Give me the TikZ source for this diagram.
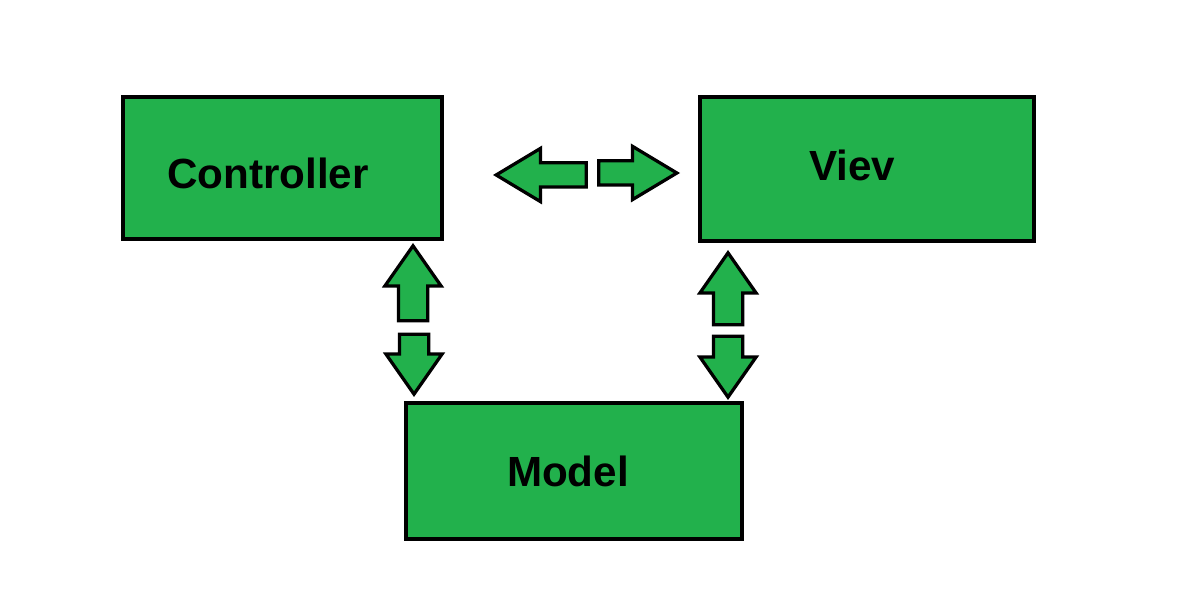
\documentclass[tikz,border=0pt]{standalone}
\usepackage{fontspec}
\setmainfont{Liberation Sans}
\usetikzlibrary{shapes.arrows,positioning}
\definecolor{paintgreen}{RGB}{34,177,76}

\tikzset{
  box/.style={draw,line width=0.08cm,fill=paintgreen,inner sep=0pt},
  tag/.style={font=\fontsize{24}{28}\selectfont\bfseries},
  harrow/.style={draw,line width=0.065cm,fill=paintgreen,single arrow,inner xsep=0pt,inner ysep=0.21cm,
    single arrow head extend=0.29cm,single arrow tip angle=62,anchor=tip},
  varrow/.style={draw,line width=0.065cm,fill=paintgreen,single arrow,inner xsep=0pt,inner ysep=0.26cm,
    single arrow head extend=0.27cm,single arrow tip angle=70,anchor=tip}
}

\begin{document}
\begin{tikzpicture}
  \useasboundingbox (0,0) rectangle (24,11.78);
  \fill[white] (0,0) rectangle (24,11.78);

  \node[box,minimum width=6.38cm,minimum height=2.84cm,
    label={[tag,xshift=-0.29cm,yshift=-0.1cm]center:Controller}] (ctrl) at (5.65,8.42) {};
  \node[box,minimum width=6.68cm,minimum height=2.88cm,
    label={[tag,xshift=-0.3cm,yshift=0.08cm]center:Viev}] (view) at (17.34,8.40) {};
  \node[box,minimum width=6.72cm,minimum height=2.72cm,
    label={[tag,xshift=-0.12cm]center:Model}] (model) at (11.48,2.36) {};

  % controller <-> view
  \node[harrow,minimum height=1.80cm,rotate=180] (cv1) at (9.86,8.28) {};
  \node[harrow,minimum height=1.56cm] (cv2) at (13.60,8.32) {};

  % controller <-> model
  \node[varrow,minimum height=1.50cm,rotate=90] (cm1) at (8.26,6.92) {};
  \node[varrow,minimum height=1.20cm,rotate=270] (cm2) at (8.28,3.84) {};

  % view <-> model
  \node[varrow,minimum height=1.44cm,rotate=90] (vm1) at (14.56,6.78) {};
  \node[varrow,minimum height=1.22cm,rotate=270] (vm2) at (14.56,3.78) {};
\end{tikzpicture}
\end{document}
